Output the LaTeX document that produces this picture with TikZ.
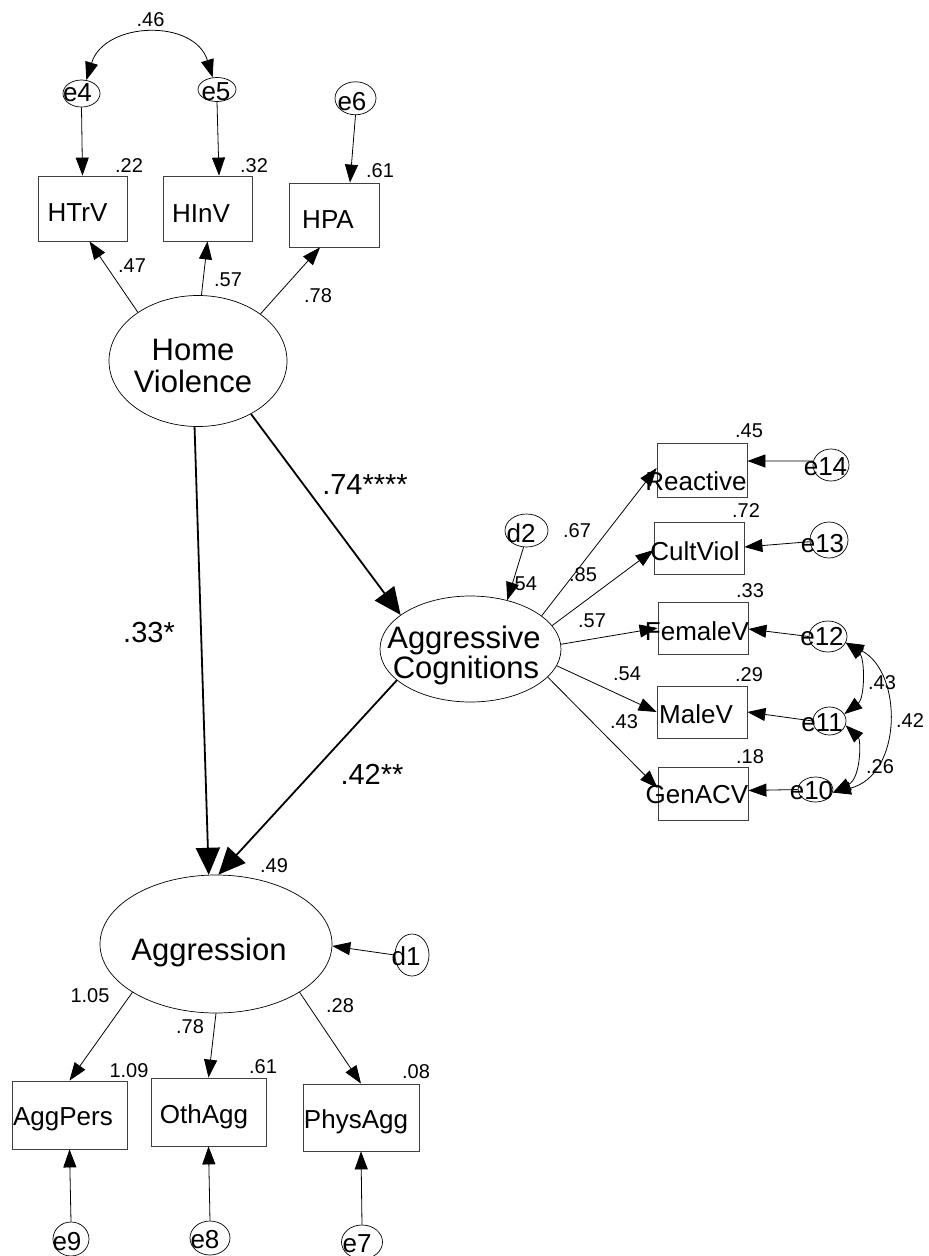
\documentclass[tikz,border=0pt]{standalone}
\usepackage{fontspec}
\setmainfont{Liberation Sans}
\usetikzlibrary{shapes.geometric,arrows.meta}
\begin{document}
\begin{tikzpicture}[x=1pt,y=-1pt,
  ell/.style={ellipse,draw,line width=0.7pt,inner sep=0pt},
  obs/.style={rectangle,draw=black!75,line width=0.8pt,inner sep=0pt},
  ntxt/.style={anchor=base,inner sep=0pt,font=\fontsize{26}{28}\selectfont},
  ltxt/.style={anchor=base,inner sep=0pt,font=\fontsize{31}{34}\selectfont},
  num/.style={anchor=base,inner sep=0pt,font=\fontsize{20}{22}\selectfont},
  bignum/.style={anchor=base,inner sep=0pt,font=\fontsize{29}{31}\selectfont},
  arr/.style={line width=0.8pt,-{Triangle[length=18pt,width=13pt]}},
  bigarr/.style={line width=1.8pt,-{Triangle[length=27pt,width=24pt]}},
  cov/.style={line width=0.8pt,{Triangle[length=18pt,width=13pt]}-{Triangle[length=18pt,width=13pt]}}
]
\fill[white] (0,0) rectangle (929,1256);
\useasboundingbox (0,0) rectangle (929,1256);

% latent variables
\node[ell,minimum width=178pt,minimum height=131pt] (HV) at (198,361) {};
\node[ell,minimum width=181pt,minimum height=106pt] (AC) at (470.5,649) {};
\node[ell,minimum width=232pt,minimum height=138pt] (AG) at (216,944) {};

% observed variables
\node[obs,minimum width=89pt,minimum height=65pt] (HTrV) at (82.5,208.5) {};
\node[obs,minimum width=89pt,minimum height=65pt] (HInV) at (207.5,208.5) {};
\node[obs,minimum width=90pt,minimum height=64pt] (HPA) at (334,215) {};
\node[obs,minimum width=90pt,minimum height=54pt] (Reactive) at (702,470) {};
\node[obs,minimum width=90pt,minimum height=52pt] (CultViol) at (699,548) {};
\node[obs,minimum width=90pt,minimum height=52pt] (FemaleV) at (703,628) {};
\node[obs,minimum width=90pt,minimum height=52pt] (MaleV) at (702,712) {};
\node[obs,minimum width=90pt,minimum height=53pt] (GenACV) at (703,793.5) {};
\node[obs,minimum width=115pt,minimum height=68pt] (AggPers) at (69.5,1115) {};
\node[obs,minimum width=115pt,minimum height=68pt] (OthAgg) at (208.5,1112) {};
\node[obs,minimum width=116pt,minimum height=67pt] (PhysAgg) at (361,1117.5) {};

% error terms
\node[ell,minimum width=37pt,minimum height=27pt] (e4) at (81.5,93.5) {};
\node[ell,minimum width=38pt,minimum height=24pt] (e5) at (217,89.5) {};
\node[ell,minimum width=41pt,minimum height=33pt] (e6) at (355.5,98.3) {};
\node[ell,minimum width=43pt,minimum height=33pt] (d2) at (526.5,530.5) {};
\node[ell,minimum width=36pt,minimum height=32pt] (e14) at (831,465) {};
\node[ell,minimum width=38pt,minimum height=36pt] (e13) at (829,540) {};
\node[ell,minimum width=38pt,minimum height=31pt] (e12) at (828,636.5) {};
\node[ell,minimum width=33pt,minimum height=28pt] (e11) at (829.5,721) {};
\node[ell,minimum width=35pt,minimum height=25pt] (e10) at (815.5,789.5) {};
\node[ell,minimum width=34pt,minimum height=42pt] (d1) at (412,955) {};
\node[ell,minimum width=36pt,minimum height=34pt] (e9) at (71,1239) {};
\node[ell,minimum width=40pt,minimum height=34pt] (e8) at (210,1238) {};
\node[ell,minimum width=41pt,minimum height=34pt] (e7) at (362,1242) {};

% connectors top
\draw[arr] (e4.south) -- (HTrV.north);
\draw[arr] (e5.south) -- ([xshift=11.5pt]HInV.north);
\draw[arr] (e6.south) -- ([xshift=16pt]HPA.north);
\draw[cov] (e4.70) .. controls +(18,-59) and +(-18,-59) .. (e5.110);
\draw[arr] (HV.141) -- ([xshift=7pt]HTrV.south);
\draw[arr] (HV.87) -- (HInV.south);
\draw[arr] (HV.37) -- ([xshift=-14pt]HPA.south);

% structural paths
\draw[bigarr] (HV.-45.5) -- (AC.154);
\draw[bigarr] (HV.-93) -- (AG.96);
\draw[bigarr] (AC.-157.5) -- (AG.88.5);

% aggressive cognitions indicators
\draw[arr] (d2.-100) -- (AC.53);
\draw[arr] (AC.25) -- ([yshift=2pt]Reactive.west);
\draw[arr] (AC.16) -- ([yshift=-2pt]CultViol.west);
\draw[arr] (AC.3) -- (FemaleV.west);
\draw[arr] (AC.-11) -- (MaleV.west);
\draw[arr] (AC.-20) -- ([yshift=5.5pt]GenACV.west);
\draw[arr] (e14.167) -- ([yshift=9pt]Reactive.east);
\draw[arr] (e13.185) -- ([yshift=1pt]CultViol.east);
\draw[arr] (e12.180) -- ([yshift=-1pt]FemaleV.east);
\draw[arr] (e11.180) -- (MaleV.east);
\draw[arr] (e10.180) -- ([yshift=3pt]GenACV.east);
\draw[cov] (e12.-19) .. controls (865,658) and (865,698) .. (e11.25);
\draw[cov] (e11.-15) .. controls (861,740) and (861,778) .. (e10.-10);
\draw[cov] (e12.-19) .. controls (903,672) and (903,775) .. (e10.-10);

% aggression indicators
\draw[arr] (d1.180) -- (AG.-1);
\draw[arr] (AG.210) -- (AggPers.north);
\draw[arr] (AG.-90) -- (OthAgg.north);
\draw[arr] (AG.-30) -- (PhysAgg.north);
\draw[arr] (e9.north) -- (AggPers.south);
\draw[arr] (e8.north) -- (OthAgg.south);
\draw[arr] (e7.north) -- (PhysAgg.south);

% node texts
\node[ntxt] (tHTrV) at (77.5,221.5) {HTrV};
\node[ntxt] (tHInV) at (201,222) {HInV};
\node[ntxt] (tHPA) at (328,228) {HPA};
\node[ltxt] (tHV1) at (193,360) {Home};
\node[ltxt] (tHV2) at (193,392) {Violence};
\node[ltxt] (tAC1) at (464,648) {Aggressive};
\node[ltxt] (tAC2) at (466,678) {Cognitions};
\node[ltxt] (tAG) at (209,960) {Aggression};
\node[ntxt] (tRe) at (696,490) {Reactive};
\node[ntxt] (tCV) at (695,560) {CultViol};
\node[ntxt] (tFV) at (697,640) {FemaleV};
\node[ntxt] (tMV) at (696,723) {MaleV};
\node[ntxt] (tGA) at (697,803) {GenACV};
\node[ntxt] (tAP) at (63,1125) {AggPers};
\node[ntxt] (tOA) at (204,1123) {OthAgg};
\node[ntxt] (tPA) at (356,1128) {PhysAgg};
\node[ntxt] (te4) at (77.5,101) {e4};
\node[ntxt] (te5) at (216,100) {e5};
\node[ntxt] (te6) at (352,110) {e6};
\node[ntxt] (td2) at (521,542) {d2};
\node[ntxt] (te14) at (825.5,475) {e14};
\node[ntxt] (te13) at (822.5,552) {e13};
\node[ntxt] (te12) at (822,645) {e12};
\node[ntxt] (te11) at (822,731.5) {e11};
\node[ntxt] (te10) at (811.5,799) {e10};
\node[ntxt] (td1) at (406,965) {d1};
\node[ntxt] (te9) at (67,1250) {e9};
\node[ntxt] (te8) at (205,1248) {e8};
\node[ntxt] (te7) at (357,1252) {e7};

% coefficient labels
\node[num] (l46) at (150.5,26) {.46};
\node[num] (l22) at (129,172) {.22};
\node[num] (l32) at (254,172) {.32};
\node[num] (l61a) at (380,177) {.61};
\node[num] (l47) at (132,272) {.47};
\node[num] (l57a) at (228,286) {.57};
\node[num] (l78a) at (318,302) {.78};
\node[bignum] (l74) at (365,494) {.74****};
\node[bignum] (l33) at (149,642) {.33*};
\node[bignum] (l42) at (372,784) {.42**};
\node[num] (l49) at (274,872) {.49};
\node[num] (l54a) at (523,590) {.54};
\node[num] (l67) at (577,537) {.67};
\node[num] (l85) at (583,581) {.85};
\node[num] (l57b) at (592,627) {.57};
\node[num] (l54b) at (627,680) {.54};
\node[num] (l43a) at (624,728) {.43};
\node[num] (l45) at (749,437) {.45};
\node[num] (l72) at (746,517) {.72};
\node[num] (l33b) at (750,597) {.33};
\node[num] (l29) at (749,681) {.29};
\node[num] (l18) at (750,763) {.18};
\node[num] (l43b) at (882,689) {.43};
\node[num] (l42b) at (910,727) {.42};
\node[num] (l26) at (880,773) {.26};
\node[num] (l105) at (90,1002) {1.05};
\node[num] (l78b) at (190,1033) {.78};
\node[num] (l28) at (340,1012) {.28};
\node[num] (l109) at (129,1077) {1.09};
\node[num] (l61b) at (263,1073) {.61};
\node[num] (l08) at (416,1078) {.08};
\end{tikzpicture}
\end{document}
